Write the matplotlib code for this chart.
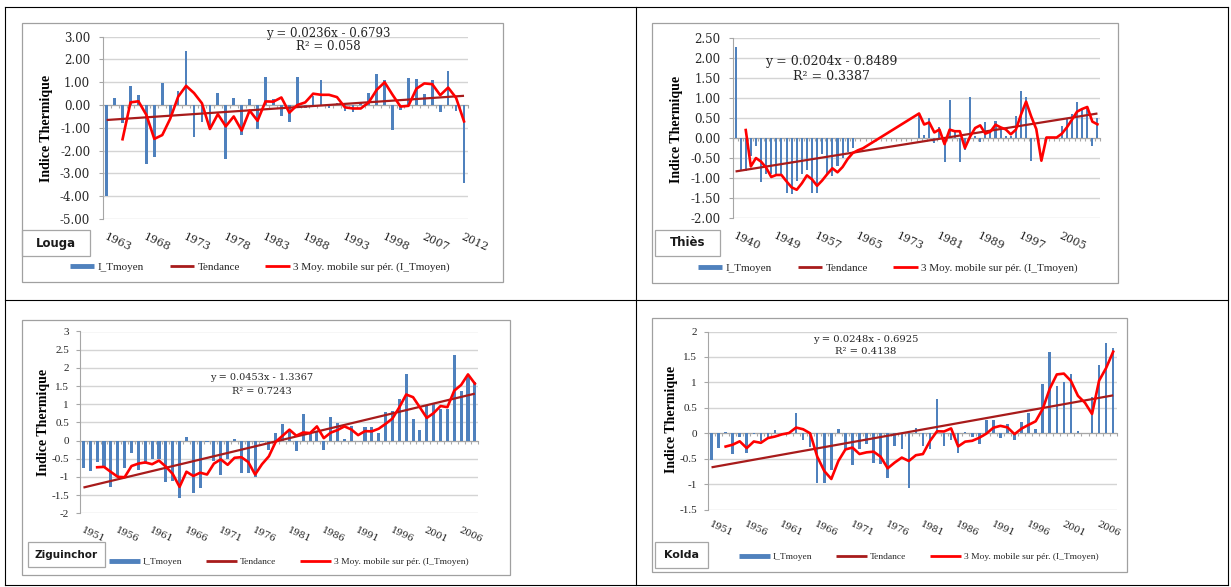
import numpy as np
import pandas as pd
import matplotlib
matplotlib.use("Agg")
import matplotlib.pyplot as plt
from matplotlib.lines import Line2D
from matplotlib.patches import Rectangle
from matplotlib.ticker import FuncFormatter

# ---------------- data ----------------
series_labels = ["I_Tmoyen", "Tendance", "3 Moy. mobile sur pér. (I_Tmoyen)"]

louga_years = list(range(1963, 2003)) + list(range(2007, 2013))
louga_values = [-4.0, 0.3, -0.8, 0.85, 0.45, -2.6, -2.3, 0.95, -0.45, 0.6,
                2.38, -1.4, -0.75, -1.0, 0.55, -2.35, 0.3, -1.3, 0.28, -1.05,
                1.25, 0.25, -0.5, -0.75, 1.25, -0.15, 0.4, 1.1, -0.15, 0.1,
                -0.25, -0.3, 0.1, 0.55, 1.35, 1.1, -1.1, -0.2, 1.2, 1.15,
                0.5, 1.1, -0.3, 1.5, -0.25, -3.4]
louga_trend = (0.0236, -0.6793, 0.058)

thies_years = [1940] + list(range(1942, 2013))
N_ = None
thies_values = [2.28, -0.83, -0.83, -0.45, -0.2, -1.1, -0.9, -0.9, -0.95, -0.9,
                -1.38, -1.4, -1.08, -0.9, -0.8, -1.38, -1.38, -0.4, -0.9, -0.95,
                -0.7, -0.5, -0.35, -0.25, N_, N_, N_, N_, N_, N_,
                N_, N_, N_, N_, N_, N_, 0.62, 0.07, 0.5, -0.13,
                0.29, -0.6, 0.96, 0.17, -0.6, -0.3, 1.02, 0.05, -0.1, 0.4,
                0.2, 0.42, 0.2, 0.05, 0.05, 0.55, 1.18, 1.02, -0.56, N_,
                N_, 0.02, 0.02, 0.02, 0.3, 0.5, 0.6, 0.9, 0.7, 0.75,
                -0.2, 0.5]
thies_trend = (0.0204, -0.8489, 0.3387)

zig_years = list(range(1951, 2009))
zig_values = [-0.75, -0.85, -0.6, -0.72, -1.27, -1.0, -0.75, -0.35, -0.8, -0.65,
              -0.5, -0.5, -1.15, -1.1, -1.57, 0.1, -1.45, -1.3, -0.05, -0.55,
              -0.95, -0.5, 0.03, -0.9, -0.9, -1.0, -0.05, -0.25, 0.2, 0.45,
              0.25, -0.3, 0.72, 0.2, 0.25, -0.25, 0.65, 0.47, 0.05, 0.4,
              0.0, 0.38, 0.38, 0.22, 0.78, 0.82, 1.15, 1.83, 0.6, 0.3,
              0.97, 1.0, 0.88, 0.88, 2.36, 1.35, 1.75, 1.6]
zig_trend = (0.0453, -1.3367, 0.7243)

kolda_years = list(range(1951, 2009))
kolda_values = [-0.52, -0.28, 0.02, -0.41, -0.08, -0.38, -0.02, -0.16, -0.1, 0.07,
                -0.03, -0.02, 0.39, -0.13, -0.26, -0.98, -0.98, -0.73, 0.08, -0.3,
                -0.62, -0.3, -0.2, -0.58, -0.6, -0.88, -0.24, -0.31, -1.08, 0.1,
                -0.24, -0.31, 0.67, -0.25, -0.13, -0.39, 0.03, -0.08, -0.21, 0.27,
                0.27, -0.1, 0.18, -0.13, 0.23, 0.4, 0.08, 0.96, 1.59, 0.92,
                1.01, 1.16, 0.04, N_, 0.72, 1.35, 1.78, 1.68]
kolda_trend = (0.0248, -0.6925, 0.4138)

# ---------------- figure ----------------
W, H = 1231, 587
fig = plt.figure(figsize=(W / 100, H / 100), dpi=100)
fig.patch.set_facecolor("white")

BAR = "#4f81bd"
TREND = "#a81b1b"
MA = "#ff0000"
GRID = "#d4d4d4"
AXC = "#a6a6a6"


def fxy(x, y):
    return x / W, 1 - y / H


def fig_line(x0, y0, x1, y1, color="black", lw=0.8):
    a, b = fxy(x0, y0)
    c, d = fxy(x1, y1)
    fig.add_artist(Line2D([a, c], [b, d], transform=fig.transFigure, color=color, lw=lw))


def fig_rect(l, t, r, b, color="#a0a0a0", lw=0.9):
    x, y = fxy(l, b)
    fig.add_artist(Rectangle((x, y), (r - l) / W, (b - t) / H, transform=fig.transFigure,
                             fill=False, edgecolor=color, lw=lw))


def moving_avg(vals, n=3):
    s = pd.Series([np.nan if v is None else v for v in vals], dtype=float)
    ma = s.rolling(n, min_periods=1).mean()
    ma.iloc[:n - 1] = np.nan
    return ma


def panel(years, values, trend, yr, ystep, yfmt, L):
    l, t, r, b = L["ax"]
    ax = fig.add_axes([l / W, 1 - b / H, (r - l) / W, (b - t) / H])
    n = len(values)
    idx = np.arange(n)
    vals = np.array([np.nan if v is None else v for v in values], dtype=float)
    ok = ~np.isnan(vals)
    ax.bar(idx[ok], vals[ok], width=L["bw"], color=BAR, zorder=2, linewidth=0)
    slope, icpt, r2 = trend
    ax.plot(idx, slope * (idx + 1) + icpt, color=TREND, lw=L["tlw"], zorder=3,
            solid_capstyle="butt")
    ma = moving_avg(values)
    m = ma.notna().values
    ax.plot(idx[m], ma.values[m], color=MA, lw=L["mlw"], zorder=4)

    ax.set_xlim(-0.5, n - 0.5)
    ax.set_ylim(*yr)
    ax.set_yticks(np.round(np.arange(yr[0], yr[1] + ystep / 2, ystep), 2))
    ax.yaxis.set_major_formatter(FuncFormatter(lambda v, p: yfmt.format(v + 0.0)))
    ax.grid(axis="y", color=GRID, lw=1.0)
    ax.set_axisbelow(True)
    for s in ("top", "right"):
        ax.spines[s].set_visible(False)
    ax.spines["left"].set_color(AXC)
    ax.spines["bottom"].set_color(AXC)
    ax.spines["bottom"].set_position(("data", 0))
    ax.spines["bottom"].set_zorder(1.5)
    ax.set_xticks(np.arange(n + 1) - 0.5)
    ax.tick_params(axis="x", length=2.5, color=AXC, labelbottom=False, width=0.8)
    ax.tick_params(axis="y", length=3, color=AXC, pad=L["ypad"], labelsize=L["yfs"],
                   labelcolor="#262626")
    for lab in ax.get_yticklabels():
        lab.set_family(L["yfam"])

    # category labels, rotated, at the bottom of the plot area
    hpx = b - t
    for i in range(0, n, L["step"]):
        ax.text(i, -L["xoff"] / hpx, str(years[i]), transform=ax.get_xaxis_transform(),
                rotation=-25, rotation_mode="anchor", ha="left", va="top",
                fontsize=L["xfs"], family="DejaVu Serif", color="#262626")

    # y title
    x, y = fxy(*L["ylab"])
    fig.text(x, y, "Indice Thermique", rotation=90, ha="center", va="center",
             family="Liberation Serif", fontweight="bold", fontsize=10)

    # equation
    ex, ey = L["eq"]
    x, y = fxy(ex, ey)
    fig.text(x, y, f"y = {slope:.4f}x - {-icpt:.4f}", ha="center", va="center",
             family="DejaVu Serif", fontsize=L["efs"], color="#262626")
    x, y = fxy(ex, ey + L["edy"])
    fig.text(x, y, f"R² = {r2:g}", ha="center", va="center",
             family="DejaVu Serif", fontsize=L["efs"], color="#262626")

    # legend
    handles = [Line2D([], [], color=BAR, lw=3.5, solid_capstyle="butt"),
               Line2D([], [], color=TREND, lw=2, solid_capstyle="butt"),
               Line2D([], [], color=MA, lw=2, solid_capstyle="butt")]
    lx, ly = fxy(*L["leg"])
    leg = ax.legend(handles, series_labels, ncol=3, frameon=False,
                    loc="center left", bbox_to_anchor=(lx, ly), bbox_transform=fig.transFigure,
                    borderpad=0, borderaxespad=0, handlelength=L["hl"], handletextpad=0.3,
                    columnspacing=L["cs"], prop={"family": "Liberation Serif", "size": L["lfs"]})
    for txt in leg.get_texts():
        txt.set_color("#262626")

    # chart border and station box
    fig_rect(*L["box"])
    fig_rect(*L["sbox"], color="#a6a6a6")
    sl, st, sr, sb = L["sbox"]
    x, y = fxy((sl + sr) / 2, (st + sb) / 2)
    fig.text(x, y, L["name"], ha="center", va="center", family="DejaVu Sans",
             fontweight="bold", fontsize=L["sfs"], color="#1a1a1a")
    return ax


# table grid
fig_line(5, 7, 1228, 7)
fig_line(5, 585, 1228, 585)
fig_line(5, 7, 5, 585)
fig_line(1228, 7, 1228, 585)
fig_line(636, 7, 636, 585)
fig_line(5, 300, 1228, 300)

panel(louga_years, louga_values, louga_trend, (-5, 3), 1.0, "{:.2f}",
      dict(ax=(102.7, 36.7, 468, 219), bw=0.34, tlw=1.6, mlw=1.9, ypad=6, yfs=8.5,
           yfam="DejaVu Serif", step=5, xoff=13, xfs=8, ylab=(46.5, 128),
           eq=(328, 34), edy=12.7, efs=8.5, leg=(70, 267), hl=2.2, cs=2.3, lfs=8,
           box=(22, 23, 503, 282), sbox=(22, 230, 90, 256), name="Louga", sfs=8.5))

panel(thies_years, thies_values, thies_trend, (-2, 2.5), 0.5, "{:.2f}",
      dict(ax=(733, 38.3, 1100, 218.3), bw=0.4, tlw=1.6, mlw=1.9, ypad=6, yfs=8.5,
           yfam="DejaVu Serif", step=8, xoff=12, xfs=8, ylab=(677, 129),
           eq=(831, 61.7), edy=15, efs=9, leg=(698, 268), hl=2.2, cs=2.3, lfs=8,
           box=(652, 23, 1118, 283), sbox=(655, 230, 720, 256), name="Thiès", sfs=8.5))

panel(zig_years, zig_values, zig_trend, (-2, 3), 0.5, "{:g}",
      dict(ax=(80, 331.5, 478.3, 513.3), bw=0.45, tlw=1.6, mlw=1.9, ypad=5, yfs=8,
           yfam="Liberation Serif", step=5, xoff=12, xfs=7, ylab=(43, 422),
           eq=(262, 378), edy=14, efs=7, leg=(109, 561.5), hl=3.3, cs=2.5, lfs=6.8,
           box=(22, 320, 510, 575), sbox=(28, 542, 105, 567), name="Ziguinchor", sfs=7.5))

panel(kolda_years, kolda_values, kolda_trend, (-1.5, 2), 0.5, "{:g}",
      dict(ax=(708, 331.5, 1116.7, 509.7), bw=0.36, tlw=1.6, mlw=1.9, ypad=5, yfs=8,
           yfam="Liberation Serif", step=5, xoff=10, xfs=7, ylab=(672, 419),
           eq=(866, 339), edy=12, efs=7.2, leg=(739, 556.5), hl=3.3, cs=2.5, lfs=6.8,
           box=(652, 318, 1127, 572), sbox=(655, 542, 708, 568), name="Kolda", sfs=8))

fig.savefig("out.png", dpi=100, facecolor="white")
